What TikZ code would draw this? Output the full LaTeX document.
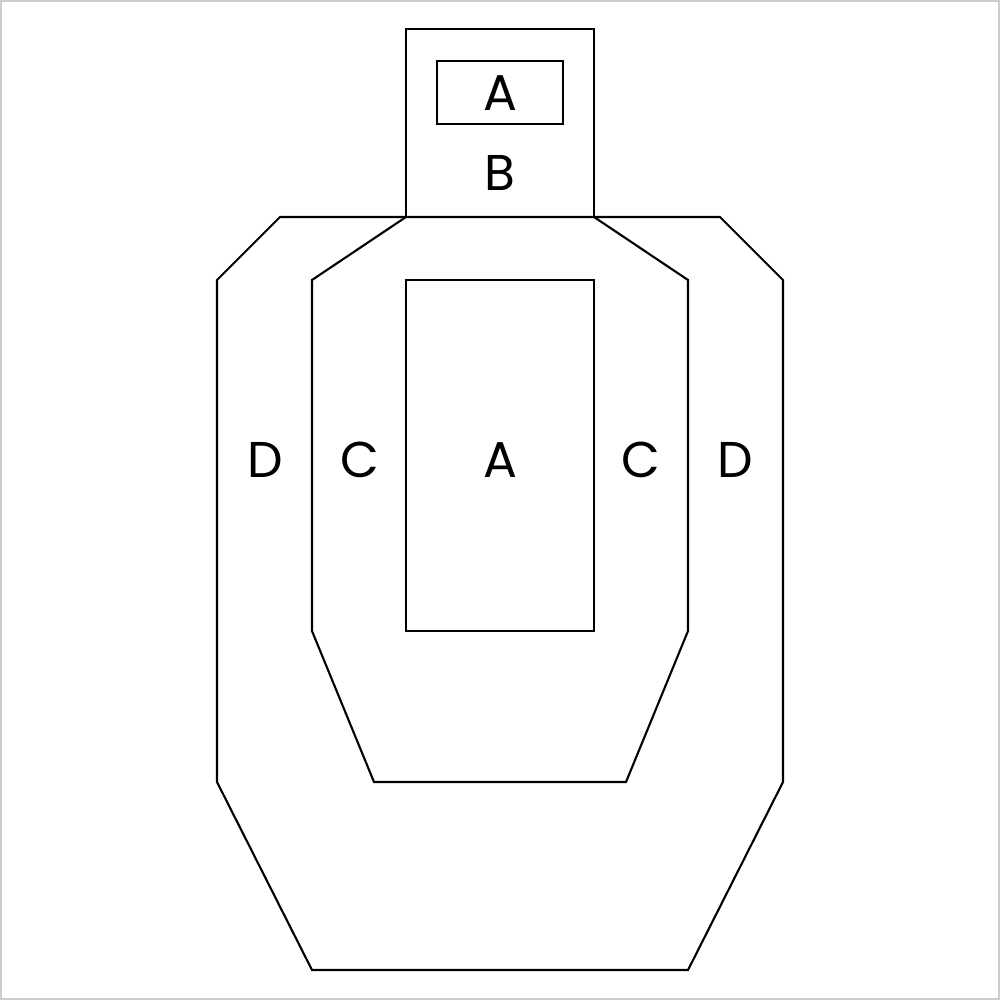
\documentclass[tikz,border=0pt]{standalone}
\usepackage{fontspec}
\newfontfamily\lblfont{Poppins}
\definecolor{framegray}{HTML}{CCCCCC}
\begin{document}
\begin{tikzpicture}[x=0.01cm,y=-0.01cm,
  zone/.style={draw=black,line width=0.6pt,line join=miter},
  lbl/.style={font=\lblfont\fontsize{14.3}{16}\selectfont,inner sep=0pt,anchor=center}]
\useasboundingbox (0,0) rectangle (1000,1000);
\draw[framegray,line width=0.02cm] (1,1) rectangle (999,999);
% outer D zone
\draw[zone] (280,217) -- (720,217) -- (783,280) -- (783,782) -- (688,970) -- (312,970) -- (217,782) -- (217,280) -- cycle;
% C zone
\draw[zone] (406,217) -- (312,280) -- (312,631) -- (374,782) -- (626,782) -- (688,631) -- (688,280) -- (594,217);
% head B
\draw[zone] (406,29) rectangle (594,217);
% head A
\draw[zone] (437,61) rectangle (563,124);
% body A
\draw[zone] (406,280) rectangle (594,631);
% labels
\node[lbl] (headA) at (500,93) {A};
\node[lbl] (headB) at (500,173) {B};
\node[lbl] (dl) at (265,460) {D};
\node[lbl] (cl) at (360,460) {C};
\node[lbl] (bodyA) at (500,460) {A};
\node[lbl] (cr) at (641,460) {C};
\node[lbl] (dr) at (735,460) {D};
\end{tikzpicture}
\end{document}
